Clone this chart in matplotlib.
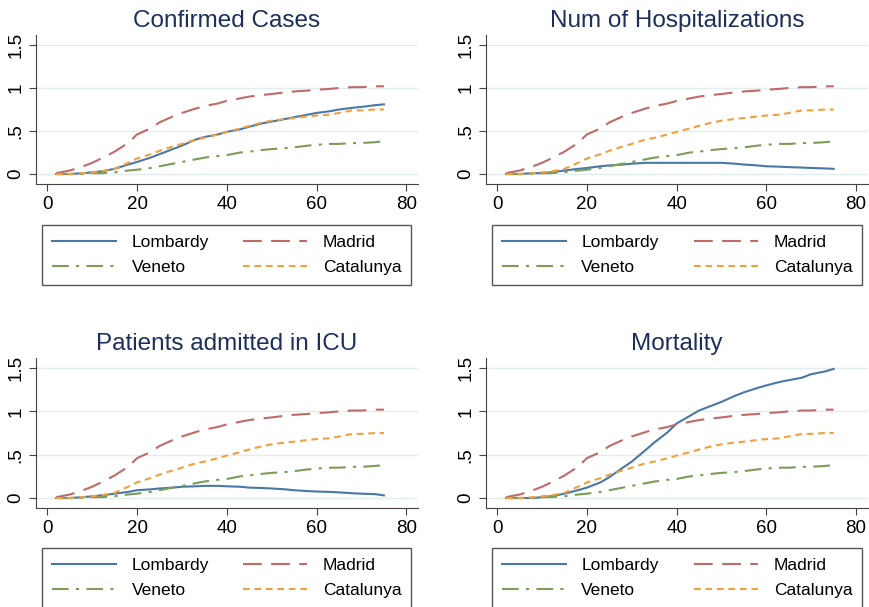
import numpy as np
import matplotlib
matplotlib.use("Agg")
import matplotlib.pyplot as plt

plt.rcParams['font.family'] = ['Liberation Sans', 'DejaVu Sans']

days = [2, 5, 8, 10, 12, 15, 18, 20, 23, 25, 28, 30, 33, 35, 38, 40, 43, 45, 48, 50,
        53, 55, 58, 60, 63, 65, 68, 70, 73, 75]

madrid = [0.01, 0.04, 0.09, 0.13, 0.18, 0.26, 0.36, 0.46, 0.53, 0.60, 0.67, 0.71, 0.76, 0.79, 0.82,
          0.85, 0.88, 0.90, 0.92, 0.93, 0.95, 0.96, 0.97, 0.98, 0.99, 1.00, 1.01, 1.01, 1.02, 1.02]
catalunya = [0.0, 0.0, 0.01, 0.02, 0.03, 0.06, 0.13, 0.18, 0.23, 0.27, 0.32, 0.35, 0.40, 0.42, 0.46,
             0.49, 0.53, 0.56, 0.60, 0.62, 0.64, 0.65, 0.67, 0.68, 0.69, 0.71, 0.74, 0.74, 0.75, 0.75]
veneto = [0.0, 0.0, 0.0, 0.01, 0.01, 0.02, 0.04, 0.05, 0.07, 0.09, 0.12, 0.14, 0.17, 0.19, 0.21,
          0.22, 0.25, 0.26, 0.28, 0.29, 0.30, 0.31, 0.33, 0.34, 0.35, 0.35, 0.36, 0.36, 0.37, 0.38]

lomb_cases = [0.0, 0.0, 0.01, 0.02, 0.03, 0.06, 0.11, 0.14, 0.19, 0.23, 0.29, 0.33, 0.40, 0.43, 0.46,
              0.49, 0.52, 0.55, 0.59, 0.61, 0.64, 0.66, 0.69, 0.71, 0.73, 0.75, 0.77, 0.78, 0.80, 0.81]
lomb_hosp = [0.0, 0.0, 0.01, 0.01, 0.02, 0.04, 0.06, 0.07, 0.09, 0.10, 0.11, 0.12, 0.13, 0.13, 0.13,
             0.13, 0.13, 0.13, 0.13, 0.13, 0.12, 0.11, 0.10, 0.09, 0.085, 0.08, 0.075, 0.07, 0.065, 0.06]
lomb_icu = [0.0, 0.0, 0.01, 0.02, 0.03, 0.05, 0.07, 0.09, 0.10, 0.11, 0.12, 0.13, 0.135, 0.14, 0.14,
            0.135, 0.13, 0.12, 0.115, 0.11, 0.10, 0.09, 0.08, 0.075, 0.07, 0.065, 0.055, 0.05, 0.045, 0.03]
lomb_mort = [0.0, 0.0, 0.0, 0.01, 0.02, 0.05, 0.09, 0.12, 0.18, 0.24, 0.35, 0.42, 0.55, 0.64, 0.76,
             0.86, 0.95, 1.01, 1.07, 1.11, 1.18, 1.22, 1.27, 1.30, 1.34, 1.36, 1.39, 1.43, 1.46, 1.49]

titles = ["Confirmed Cases", "Num of Hospitalizations", "Patients admitted in ICU", "Mortality"]
lombardy = [lomb_cases, lomb_hosp, lomb_icu, lomb_mort]
xticks = [0, 20, 40, 60, 80]
yticks = [0, 0.5, 1, 1.5]
ytick_labels = ["0", ".5", "1", "1.5"]

c_lomb = '#4a78a6'
c_mad = '#c06a6a'
c_ven = '#7d9c5a'
c_cat = '#f0a03c'
title_col = '#1c2e5c'

fig = plt.figure(figsize=(8.7, 6.07), dpi=100)

# axes boxes in figure fractions: (left, bottom, width, height)
boxes = [(0.0414, 0.6969, 0.4391, 0.2454),
         (0.5586, 0.6969, 0.4388, 0.2454),
         (0.0414, 0.1630, 0.4391, 0.2472),
         (0.5586, 0.1630, 0.4388, 0.2472)]
leg_boxes = [(0.0483, 0.5305, 0.4241, 0.0988),
             (0.5655, 0.5305, 0.4253, 0.0988),
             (0.0483, 0.0010, 0.4241, 0.0962),
             (0.5655, 0.0010, 0.4253, 0.0962)]

for i in range(4):
    ax = fig.add_axes(boxes[i])
    ax.set_xlim(-2.5, 82.6)
    ax.set_ylim(-0.116, 1.616)
    for y in yticks:
        ax.axhline(y, color='#e2eded', lw=1.0, zorder=0)
    l1, = ax.plot(days, lombardy[i], color=c_lomb, lw=1.5, label='Lombardy')
    l2, = ax.plot(days, madrid, color=c_mad, lw=1.5, dashes=(9, 4.5), label='Madrid')
    l3, = ax.plot(days, veneto, color=c_ven, lw=1.5, dashes=(8, 3.5, 1.5, 3.5), label='Veneto')
    l4, = ax.plot(days, catalunya, color=c_cat, lw=1.5, dashes=(3.2, 2.3), label='Catalunya')
    ax.spines['top'].set_visible(False)
    ax.spines['right'].set_visible(False)
    ax.spines['left'].set_color('#444444')
    ax.spines['bottom'].set_color('#444444')
    ax.set_xticks(xticks)
    ax.set_yticks(yticks)
    ax.set_yticklabels(ytick_labels, rotation=90, va='center')
    ax.tick_params(axis='both', labelsize=13.5, length=5, color='#444444', direction='out')
    ax.set_title(titles[i], fontsize=17.5, color=title_col, pad=6)
    fig.legend([l1, l3, l2, l4], ['Lombardy', 'Veneto', 'Madrid', 'Catalunya'],
               ncol=2, loc='upper left', bbox_to_anchor=leg_boxes[i],
               bbox_transform=fig.transFigure, mode='expand', fontsize=12.5,
               fancybox=False, edgecolor='#555555', framealpha=1,
               handlelength=3.7, handletextpad=0.9, labelspacing=0.6,
               borderpad=0.55, borderaxespad=0)

fig.savefig('out.png', dpi=100)
